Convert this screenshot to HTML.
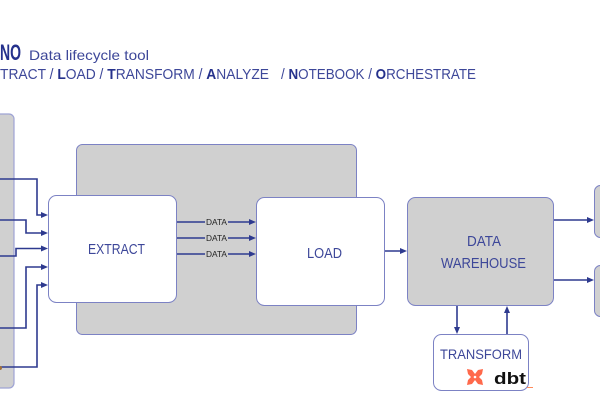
<!DOCTYPE html>
<html><head><meta charset="utf-8"><style>
html,body{margin:0;padding:0;background:#fff;width:600px;height:403px;overflow:hidden}
svg{display:block}
text{font-family:"Liberation Sans",sans-serif}
</style></head><body>
<svg width="600" height="403" viewBox="0 0 600 403" xmlns="http://www.w3.org/2000/svg">
<!-- header -->
<text x="0" y="60" font-size="22" font-weight="bold" fill="#25318c" textLength="21" lengthAdjust="spacingAndGlyphs">NO</text>
<text x="29" y="60" font-size="14" fill="#3d4799" textLength="120" lengthAdjust="spacingAndGlyphs">Data lifecycle tool</text>
<text x="0" y="79" font-size="15" fill="#3d4799" textLength="269" lengthAdjust="spacingAndGlyphs">TRACT / <tspan font-weight="bold" fill="#25318c">L</tspan>OAD / <tspan font-weight="bold" fill="#25318c">T</tspan>RANSFORM / <tspan font-weight="bold" fill="#25318c">A</tspan>NALYZE</text>
<text x="281" y="79" font-size="15" fill="#3d4799" textLength="195" lengthAdjust="spacingAndGlyphs">/ <tspan font-weight="bold" fill="#25318c">N</tspan>OTEBOOK / <tspan font-weight="bold" fill="#25318c">O</tspan>RCHESTRATE</text>

<!-- left panel -->
<rect x="-10" y="114" width="24" height="274" rx="5" fill="#d0d0d0" stroke="#9ea3d4" stroke-width="1.2"/>

<!-- big container -->
<rect x="76.5" y="144.5" width="280" height="190" rx="6" fill="#d0d0d0" stroke="#7c82c4" stroke-width="1"/>

<!-- EXTRACT -->
<rect x="48.5" y="195.5" width="128" height="107" rx="8" fill="#fff" stroke="#7c82c4" stroke-width="1"/>
<text x="88" y="254" font-size="15" fill="#3d4799" textLength="57" lengthAdjust="spacingAndGlyphs">EXTRACT</text>

<!-- LOAD -->
<rect x="256.5" y="197.5" width="128" height="108" rx="8" fill="#fff" stroke="#7c82c4" stroke-width="1"/>
<text x="307" y="258" font-size="15" fill="#3d4799" textLength="35" lengthAdjust="spacingAndGlyphs">LOAD</text>

<!-- DW -->
<rect x="407.5" y="197.5" width="146" height="108" rx="8" fill="#d0d0d0" stroke="#7c82c4" stroke-width="1"/>
<text x="467" y="246" font-size="15" fill="#3d4799" textLength="34" lengthAdjust="spacingAndGlyphs">DATA</text>
<text x="441" y="268" font-size="15" fill="#3d4799" textLength="85" lengthAdjust="spacingAndGlyphs">WAREHOUSE</text>

<!-- right boxes -->
<rect x="594.5" y="185.5" width="30" height="52" rx="6" fill="#d0d0d0" stroke="#7c82c4" stroke-width="1"/>
<rect x="594.5" y="265.5" width="30" height="51" rx="6" fill="#d0d0d0" stroke="#7c82c4" stroke-width="1"/>

<!-- TRANSFORM -->
<rect x="433.5" y="334.5" width="95" height="56" rx="8" fill="#fff" stroke="#7c82c4" stroke-width="1"/>
<text x="440" y="359" font-size="14" fill="#3d4799" textLength="82" lengthAdjust="spacingAndGlyphs">TRANSFORM</text>
<g fill="#ff694b">
<polygon points="467,369 472,370 475,374 478,370 483,369 482,374 479,377 482,380 483,385 478,384 475,380 472,384 467,385 468,380 471,377 468,374"/>
</g>
<circle cx="475" cy="377" r="1.3" fill="#fff"/>
<text x="494" y="384" font-size="17" font-weight="bold" fill="#111" textLength="32" lengthAdjust="spacingAndGlyphs">dbt</text>
<line x1="527" y1="387.5" x2="533" y2="387.5" stroke="#ff8a5b" stroke-width="1"/>

<!-- connectors -->
<g fill="none" stroke="#2e3a8f" stroke-width="1.6">
<path d="M0,179 H37 V215 H43"/>
<path d="M0,220 H26 V233 H43"/>
<path d="M0,256 H16 V248.5 H43"/>
<path d="M0,328 H26 V267 H43"/>
<path d="M0,367 H37 V285 H43"/>
<path d="M177,222 H251"/>
<path d="M177,238 H251"/>
<path d="M177,254 H251"/>
<path d="M385,251 H402"/>
<path d="M554,220 H589"/>
<path d="M554,280 H589"/>
<path d="M457,306 V329"/>
<path d="M507,334 V311"/>
</g>
<g fill="#2e3a8f">
<polygon points="48,215 41,212 41,218"/>
<polygon points="48,233 41,230 41,236"/>
<polygon points="48,248.5 41,245.5 41,251.5"/>
<polygon points="48,267 41,264 41,270"/>
<polygon points="48,285 41,282 41,288"/>
<polygon points="256,222 249,219 249,225"/>
<polygon points="256,238 249,235 249,241"/>
<polygon points="256,254 249,251 249,257"/>
<polygon points="407,251 400,248 400,254"/>
<polygon points="594,220 587,217 587,223"/>
<polygon points="594,280 587,277 587,283"/>
<polygon points="457,334 454,327 460,327"/>
<polygon points="507,306 504,313 510,313"/>
</g>
<!-- DATA labels -->
<g>
<rect x="205" y="217" width="23" height="9" fill="#d0d0d0"/>
<rect x="205" y="233" width="23" height="9" fill="#d0d0d0"/>
<rect x="205" y="249" width="23" height="9" fill="#d0d0d0"/>
<text x="206" y="225" font-size="8" fill="#222" textLength="21" lengthAdjust="spacingAndGlyphs">DATA</text>
<text x="206" y="241" font-size="8" fill="#222" textLength="21" lengthAdjust="spacingAndGlyphs">DATA</text>
<text x="206" y="257" font-size="8" fill="#222" textLength="21" lengthAdjust="spacingAndGlyphs">DATA</text>
</g>
<circle cx="0" cy="368" r="2" fill="#a0703a"/>
</svg>
</body></html>
